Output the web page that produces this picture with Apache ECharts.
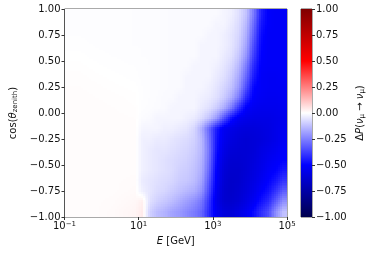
<!DOCTYPE html>
<html>
<head>
<meta charset="utf-8">
<script src="https://cdn.jsdelivr.net/npm/echarts@6/dist/echarts.min.js"></script>
<style>
html, body { margin: 0; padding: 0; background: #fff; }
#main { width: 374px; height: 253px; }
</style>
</head>
<body>
<div id="main"></div>
<script>
// log10(E / GeV) cell centres (coarse on the flat left part)
var logE = [-0.6, -0.2, 0.3, 0.9, 1.1, 1.3, 1.5, 1.7, 1.9, 2.1, 2.3, 2.5, 2.7, 2.9, 3.1, 3.3, 3.5, 3.7, 3.9, 4.1, 4.3, 4.5, 4.7, 4.9];
// cos(theta_zenith) cell centres, top row first
var cosZen = [0.95, 0.85, 0.75, 0.65, 0.55, 0.45, 0.35, 0.25, 0.15, 0.05, -0.05, -0.15, -0.25, -0.35, -0.45, -0.55, -0.65, -0.75, -0.85, -0.95];
// delta P(numu -> numu), one row per cosZen value
var deltaP = [
    [-0.004,-0.004,-0.004,-0.005,-0.005,-0.005,-0.006,-0.008,-0.01,-0.01,-0.01,-0.01,-0.01,-0.01,-0.01,-0.02,-0.03,-0.06,-0.12,-0.26,-0.44,-0.51,-0.52,-0.52],
    [-0.004,-0.004,-0.004,-0.005,-0.005,-0.005,-0.006,-0.008,-0.01,-0.01,-0.01,-0.01,-0.01,-0.01,-0.02,-0.02,-0.04,-0.07,-0.14,-0.29,-0.46,-0.51,-0.52,-0.52],
    [-0.003,-0.004,-0.004,-0.005,-0.005,-0.005,-0.006,-0.008,-0.01,-0.01,-0.01,-0.01,-0.01,-0.02,-0.02,-0.03,-0.05,-0.08,-0.16,-0.32,-0.48,-0.52,-0.52,-0.52],
    [-0.002,-0.003,-0.004,-0.005,-0.005,-0.005,-0.006,-0.008,-0.01,-0.01,-0.01,-0.01,-0.02,-0.02,-0.02,-0.03,-0.05,-0.09,-0.18,-0.35,-0.49,-0.52,-0.52,-0.52],
    [0,-0.002,-0.003,-0.004,-0.005,-0.005,-0.006,-0.008,-0.01,-0.01,-0.01,-0.01,-0.02,-0.02,-0.02,-0.04,-0.06,-0.11,-0.21,-0.38,-0.50,-0.52,-0.52,-0.52],
    [0.002,0,-0.002,-0.003,-0.004,-0.005,-0.006,-0.008,-0.01,-0.01,-0.01,-0.02,-0.02,-0.02,-0.03,-0.05,-0.08,-0.14,-0.26,-0.42,-0.51,-0.52,-0.52,-0.52],
    [0.004,0.002,0,-0.002,-0.004,-0.005,-0.006,-0.008,-0.01,-0.01,-0.02,-0.02,-0.02,-0.02,-0.04,-0.06,-0.10,-0.17,-0.30,-0.45,-0.52,-0.53,-0.53,-0.52],
    [0.005,0.004,0.002,0,-0.003,-0.005,-0.006,-0.008,-0.01,-0.01,-0.02,-0.02,-0.02,-0.03,-0.05,-0.08,-0.12,-0.20,-0.35,-0.49,-0.52,-0.53,-0.53,-0.53],
    [0.006,0.005,0.004,0.002,-0.003,-0.005,-0.007,-0.01,-0.01,-0.02,-0.02,-0.02,-0.03,-0.04,-0.06,-0.10,-0.16,-0.26,-0.42,-0.51,-0.53,-0.54,-0.54,-0.53],
    [0.006,0.006,0.005,0.003,-0.004,-0.006,-0.008,-0.01,-0.02,-0.02,-0.02,-0.02,-0.04,-0.06,-0.10,-0.16,-0.26,-0.40,-0.51,-0.54,-0.55,-0.55,-0.55,-0.54],
    [0.006,0.006,0.006,0.005,-0.008,-0.01,-0.02,-0.02,-0.02,-0.02,-0.03,-0.04,-0.07,-0.12,-0.20,-0.34,-0.47,-0.54,-0.56,-0.57,-0.57,-0.57,-0.56,-0.55],
    [0.006,0.006,0.006,0.006,-0.02,-0.02,-0.02,-0.03,-0.03,-0.04,-0.05,-0.08,-0.16,-0.30,-0.45,-0.54,-0.57,-0.59,-0.60,-0.60,-0.59,-0.58,-0.56,-0.54],
    [0.006,0.006,0.006,0.006,-0.03,-0.03,-0.04,-0.04,-0.05,-0.06,-0.07,-0.09,-0.14,-0.28,-0.46,-0.55,-0.59,-0.61,-0.62,-0.61,-0.60,-0.58,-0.56,-0.53],
    [0.006,0.006,0.006,0.006,-0.03,-0.04,-0.05,-0.05,-0.06,-0.07,-0.08,-0.10,-0.14,-0.27,-0.47,-0.57,-0.61,-0.62,-0.62,-0.61,-0.58,-0.56,-0.54,-0.51],
    [0.006,0.006,0.006,0.006,-0.03,-0.04,-0.05,-0.06,-0.07,-0.08,-0.09,-0.11,-0.15,-0.28,-0.49,-0.59,-0.63,-0.63,-0.62,-0.60,-0.57,-0.54,-0.52,-0.50],
    [0.006,0.006,0.006,0.006,-0.03,-0.04,-0.05,-0.06,-0.07,-0.09,-0.10,-0.12,-0.16,-0.30,-0.51,-0.61,-0.64,-0.64,-0.62,-0.59,-0.56,-0.52,-0.50,-0.46],
    [0.006,0.006,0.006,0.008,-0.04,-0.05,-0.06,-0.07,-0.08,-0.10,-0.11,-0.13,-0.18,-0.33,-0.52,-0.62,-0.65,-0.64,-0.61,-0.58,-0.54,-0.50,-0.46,-0.40],
    [0.006,0.006,0.006,0.01,-0.03,-0.05,-0.07,-0.08,-0.10,-0.12,-0.14,-0.16,-0.21,-0.36,-0.54,-0.63,-0.65,-0.63,-0.60,-0.56,-0.51,-0.47,-0.40,-0.32],
    [0.006,0.006,0.008,0.015,0.03,-0.06,-0.09,-0.11,-0.13,-0.16,-0.19,-0.22,-0.27,-0.40,-0.56,-0.63,-0.64,-0.62,-0.58,-0.53,-0.47,-0.42,-0.32,-0.22],
    [0.006,0.006,0.01,0.02,0.04,-0.09,-0.13,-0.15,-0.18,-0.20,-0.23,-0.26,-0.30,-0.42,-0.54,-0.60,-0.61,-0.58,-0.54,-0.48,-0.41,-0.35,-0.22,-0.12]
];
var xTickExp = [-1, 1, 3, 5];
var seismic = ['#00004d', '#0000ff', '#ffffff', '#ff0000', '#800000'];

var FONT = 'DejaVu Sans';
var STEP = 2;

// cell edges from neighbouring centres
var edges = function(c, lo, hi) {
    var e = [];
    for (var i = 0; i < c.length; i++) {
        var a = i == 0 ? lo : (c[i - 1] + c[i]) / 2;
        var b = i == c.length - 1 ? hi : (c[i] + c[i + 1]) / 2;
        e.push([a, b]);
    }
    return e;
};

// index pair + weight of v inside a monotonic array (clamped)
var bracket = function(arr, v) {
    var n = arr.length;
    var asc = arr[n - 1] > arr[0];
    if (asc ? v <= arr[0] : v >= arr[0]) return [0, 0, 0];
    if (asc ? v >= arr[n - 1] : v <= arr[n - 1]) return [n - 1, n - 1, 0];
    for (var i = 0; i < n - 1; i++) {
        var a = arr[i], b = arr[i + 1];
        if ((v - a) * (v - b) <= 0) return [i, i + 1, (v - a) / (b - a)];
    }
    return [n - 1, n - 1, 0];
};

// bilinear shading between cell centres (like gouraud shading)
var shade = function(lx, cz) {
    var bx = bracket(logE, lx);
    var by = bracket(cosZen, cz);
    var v00 = deltaP[by[0]][bx[0]], v01 = deltaP[by[0]][bx[1]];
    var v10 = deltaP[by[1]][bx[0]], v11 = deltaP[by[1]][bx[1]];
    var top = v00 + (v01 - v00) * bx[2];
    var bot = v10 + (v11 - v10) * bx[2];
    return top + (bot - top) * by[2];
};

var xe = edges(logE, -1, 5);
var ye = edges(cosZen, 1, -1);
var cells = [];
for (var r = 0; r < cosZen.length; r++) {
    for (var c = 0; c < logE.length; c++) {
        cells.push([xe[c][0], xe[c][1], ye[r][0], ye[r][1], deltaP[r][c]]);
    }
}

var fmtNum = function(v) {
    return v.toFixed(2).replace('-', '\u2212');
};

var chart = echarts.init(document.getElementById('main'));

var option = {
    animation: false,
    backgroundColor: '#fff',
    textStyle: { fontFamily: FONT },
    grid: [
        { left: 63, top: 9, width: 224, height: 208, show: true, borderColor: '#555', borderWidth: 1, backgroundColor: 'transparent' },
        { left: 301, top: 9, width: 11, height: 208, show: true, borderColor: '#555', borderWidth: 1, backgroundColor: 'transparent' }
    ],
    xAxis: [{
        type: 'value',
        gridIndex: 0,
        min: -1,
        max: 5,
        axisLine: { show: false, onZero: false },
        splitLine: { show: false },
        axisTick: { length: 3, lineStyle: { color: '#333' }, customValues: xTickExp },
        axisLabel: {
            customValues: xTickExp,
            margin: 4,
            color: '#111',
            fontFamily: FONT,
            fontSize: 10,
            formatter: function(v) {
                return '{b|10}{s|' + String(v).replace('-', '\u2212') + '}';
            },
            rich: {
                b: { fontSize: 10, fontFamily: FONT, color: '#111', verticalAlign: 'bottom' },
                s: { fontSize: 7, fontFamily: FONT, color: '#111', verticalAlign: 'top' }
            }
        },
        name: '{i|E} [GeV]',
        nameLocation: 'middle',
        nameGap: 19,
        nameTextStyle: {
            fontSize: 10,
            fontFamily: FONT,
            color: '#111',
            rich: { i: { fontStyle: 'italic', fontSize: 10, fontFamily: FONT, color: '#111' } }
        }
    }, {
        type: 'value',
        gridIndex: 1,
        min: 0,
        max: 1,
        show: false
    }],
    yAxis: [{
        type: 'value',
        gridIndex: 0,
        min: -1,
        max: 1,
        interval: 0.25,
        axisLine: { show: false, onZero: false },
        splitLine: { show: false },
        axisTick: { show: true, length: 3, lineStyle: { color: '#333' } },
        axisLabel: { margin: 4, fontSize: 10, color: '#111', fontFamily: FONT, formatter: fmtNum },
        name: '{a|cos(}{i|θ}{s|zenith}{a|)}',
        nameLocation: 'middle',
        nameRotate: 90,
        nameGap: 46,
        nameTextStyle: {
            fontFamily: FONT,
            color: '#111',
            rich: {
                a: { fontSize: 10, fontFamily: FONT, color: '#111' },
                i: { fontSize: 10, fontFamily: FONT, fontStyle: 'italic', color: '#111' },
                s: { fontSize: 7, fontFamily: FONT, color: '#111', verticalAlign: 'bottom', padding: [4, 0, 0, 0] }
            }
        }
    }, {
        type: 'value',
        gridIndex: 1,
        position: 'right',
        min: -1,
        max: 1,
        interval: 0.25,
        axisLine: { show: false, onZero: false },
        splitLine: { show: false },
        axisTick: { show: true, length: 3, lineStyle: { color: '#333' } },
        axisLabel: { margin: 4, fontSize: 10, color: '#111', fontFamily: FONT, formatter: fmtNum },
        name: '{a|Δ}{i|P}{a|(}{i|ν}{s|μ}{a| → }{i|ν}{s|μ}{a|)}',
        nameLocation: 'middle',
        nameRotate: 90,
        nameGap: 43,
        nameTextStyle: {
            fontFamily: FONT,
            color: '#111',
            rich: {
                a: { fontSize: 10, fontFamily: FONT, color: '#111' },
                i: { fontSize: 10, fontFamily: FONT, fontStyle: 'italic', color: '#111' },
                s: { fontSize: 7, fontFamily: FONT, color: '#111', verticalAlign: 'bottom', padding: [4, 0, 0, 0] }
            }
        }
    }],
    series: [{
        type: 'custom',
        xAxisIndex: 0,
        yAxisIndex: 0,
        silent: true,
        encode: { x: [0, 1], y: [2, 3] },
        data: cells,
        renderItem: function(params, api) {
            var dx0 = api.value(0), dx1 = api.value(1);
            var dy0 = api.value(2), dy1 = api.value(3);
            var p0 = api.coord([dx0, dy0]);
            var p1 = api.coord([dx1, dy1]);
            var x0 = Math.round(p0[0]), x1 = Math.round(p1[0]);
            var ya = Math.round(p0[1]), yb = Math.round(p1[1]);
            var yt = Math.min(ya, yb), ybt = Math.max(ya, yb);
            var children = [];
            for (var px = x0; px < x1; px += STEP) {
                var w = Math.min(STEP, x1 - px);
                var lx = dx0 + (px + w / 2 - p0[0]) / (p1[0] - p0[0]) * (dx1 - dx0);
                for (var py = yt; py < ybt; py += STEP) {
                    var h = Math.min(STEP, ybt - py);
                    var cz = dy0 + (py + h / 2 - p0[1]) / (p1[1] - p0[1]) * (dy1 - dy0);
                    var v = shade(lx, cz);
                    children.push({
                        type: 'rect',
                        shape: { x: px, y: py, width: w, height: h },
                        style: { fill: echarts.color.lerp((v + 1) / 2, seismic) }
                    });
                }
            }
            return { type: 'group', children: children };
        },
        z: 1
    }, {
        type: 'custom',
        xAxisIndex: 1,
        yAxisIndex: 1,
        silent: true,
        encode: { x: [0, 1], y: [2, 3] },
        data: [[0, 1, -1, 1]],
        renderItem: function(params, api) {
            var p0 = api.coord([api.value(0), api.value(3)]);
            var p1 = api.coord([api.value(1), api.value(2)]);
            var stops = [];
            for (var i = 0; i < seismic.length; i++) {
                stops.push({ offset: i / (seismic.length - 1), color: seismic[seismic.length - 1 - i] });
            }
            return {
                type: 'rect',
                shape: { x: p0[0], y: p0[1], width: p1[0] - p0[0], height: p1[1] - p0[1] },
                style: { fill: new echarts.graphic.LinearGradient(0, 0, 0, 1, stops) }
            };
        },
        z: 1
    }]
};

chart.setOption(option);
</script>
</body>
</html>
